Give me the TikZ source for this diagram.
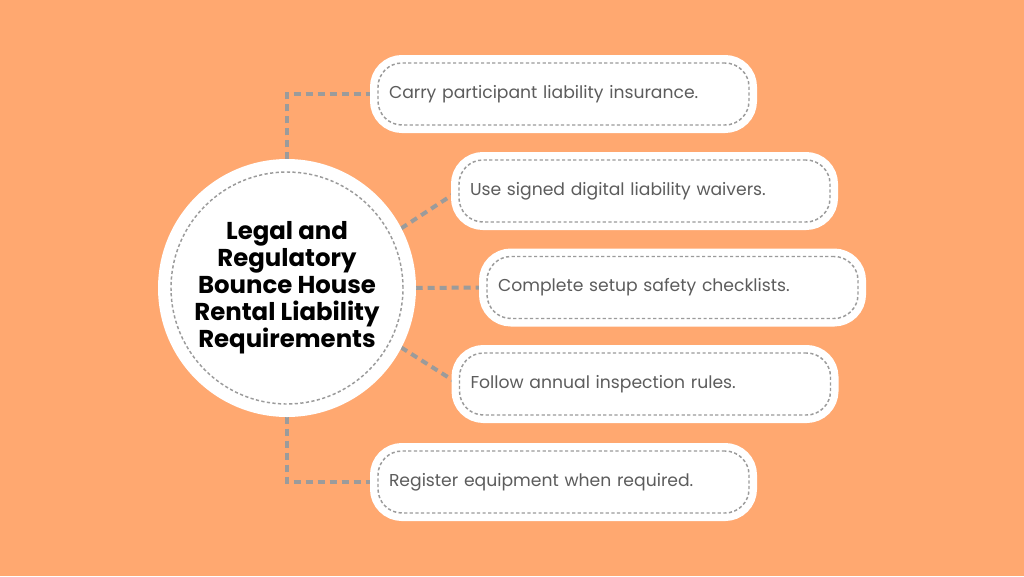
\documentclass[tikz,border=0pt]{standalone}
\usepackage{fontspec}
\setmainfont{Poppins}
\usetikzlibrary{backgrounds}
\definecolor{bgorange}{RGB}{255,168,112}
\definecolor{dashgray}{RGB}{155,155,155}
\definecolor{txtgray}{RGB}{92,92,92}
\tikzset{every picture/.style={line width=0.75pt}}
\tikzset{
  hubnode/.style={circle, fill=white, draw=dashgray, line width=1.1pt, dash pattern=on 2.4pt off 1.8pt,
    minimum size=174pt, inner sep=0pt, align=center, text=black,
    font=\fontsize{18.3}{20.25}\selectfont\bfseries,
    preaction={draw=white, line width=19.5pt, solid}},
  itembox/.style={rectangle, rounded corners=18pt, fill=white, draw=dashgray, line width=1.1pt,
    dash pattern=on 2.4pt off 1.8pt, minimum width=278.25pt, minimum height=46.5pt,
    text width=261.75pt, inner xsep=8.25pt, align=left, text=txtgray,
    font=\fontsize{12.9}{15}\selectfont,
    preaction={draw=white, line width=12pt, solid}},
  link/.style={draw=dashgray, line width=3pt, dash pattern=on 5.25pt off 3.75pt}
}
\begin{document}
\begin{tikzpicture}[x=0.75pt,y=0.75pt,yscale=-1,xscale=1]
\path[use as bounding box] (0,0) rectangle (1024,576);

% centre circle
\node [hubnode] (hub) at (287,288) {Legal and\\Regulatory\\Bounce House\\Rental Liability\\Requirements};

% requirement boxes
\node [itembox] (carry) at (563.5,94) {Carry participant liability insurance.};
\node [itembox] (waiver) at (644.5,191) {Use signed digital liability waivers.};
\node [itembox] (setup) at (672.5,287.5) {Complete setup safety checklists.};
\node [itembox] (inspect) at (645,384) {Follow annual inspection rules.};
\node [itembox] (register) at (563.5,482) {Register equipment when required.};

\begin{pgfonlayer}{background}
\fill [bgorange] (0,0) rectangle (1024,576);
% connectors
\draw [link] (hub.north) |- (carry.west);
\draw [link] (hub.27) -- (waiver.west);
\draw [link] (hub.east) -- (setup.west);
\draw [link] (hub.-27) -- (inspect.west);
\draw [link] (hub.south) |- (register.west);
\end{pgfonlayer}

\end{tikzpicture}
\end{document}
